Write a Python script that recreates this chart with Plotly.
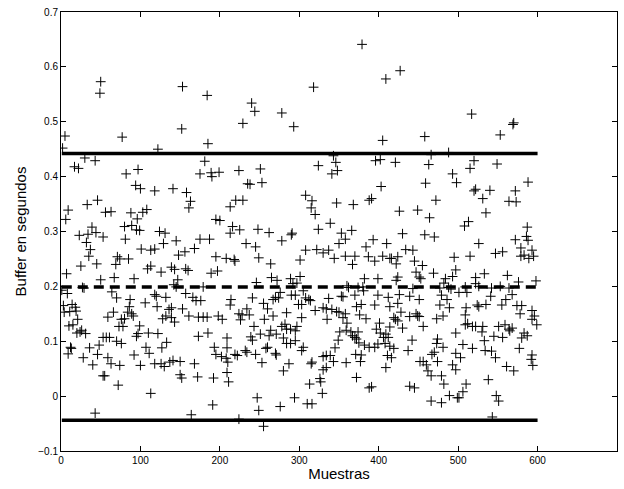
import plotly.graph_objects as go

# ---- data (sample index, buffer in seconds) ----
xs_1 = [49, 50, 5, 2, 17, 22, 30, 43, 9, 6, 33, 46, 23, 34, 39, 44, 32, 37, 35, 45, 25, 7, 1, 8, 27, 29,
        3, 4, 14, 18, 11, 19, 21, 10, 15, 26, 20, 24, 31, 36, 48, 46, 12, 13, 28, 40, 9, 43]
ys_1 = [0.552, 0.573, 0.474, 0.452, 0.418, 0.415, 0.434, 0.429, 0.339, 0.322, 0.349, 0.357, 0.293, 0.295,
        0.308, 0.298, 0.280, 0.267, 0.255, 0.241, 0.237, 0.223, 0.193, 0.187, 0.198, 0.197, 0.165, 0.153,
        0.167, 0.162, 0.154, 0.155, 0.140, 0.128, 0.130, 0.120, 0.115, 0.117, 0.114, 0.088, 0.093, 0.076,
        0.089, 0.087, 0.070, 0.057, 0.077, -0.031]

xs_2 = [77, 82, 97, 94, 100, 56, 63, 88, 96, 103, 80, 89, 95, 99, 53, 81, 101, 71, 69, 74, 85, 50, 67, 92,
        64, 70, 87, 86, 66, 59, 84, 89, 91, 76, 80, 73, 78, 53, 57, 61, 97, 99, 95, 70, 76, 59, 63, 74, 92,
        100, 53, 55, 72]
ys_2 = [0.472, 0.405, 0.413, 0.384, 0.378, 0.335, 0.336, 0.334, 0.323, 0.335, 0.309, 0.311, 0.303, 0.302,
        0.290, 0.286, 0.268, 0.254, 0.240, 0.250, 0.250, 0.212, 0.216, 0.214, 0.190, 0.179, 0.176, 0.163,
        0.153, 0.144, 0.153, 0.150, 0.146, 0.140, 0.141, 0.127, 0.127, 0.107, 0.107, 0.107, 0.114, 0.128,
        0.109, 0.100, 0.096, 0.070, 0.059, 0.056, 0.075, 0.056, 0.037, 0.037, 0.020]

xs_3 = [153, 152, 122, 118, 141, 158, 108, 124, 131, 129, 145, 113, 118, 148, 156, 109, 113, 126, 139, 143,
        142, 145, 147, 118, 120, 132, 106, 121, 136, 139, 128, 132, 139, 143, 153, 110, 122, 133, 107, 111,
        127, 118, 126, 130, 137, 141, 150, 150, 152, 113]
ys_3 = [0.564, 0.487, 0.450, 0.374, 0.378, 0.371, 0.340, 0.300, 0.297, 0.278, 0.283, 0.266, 0.268, 0.257,
        0.263, 0.232, 0.237, 0.226, 0.235, 0.231, 0.203, 0.199, 0.212, 0.185, 0.182, 0.180, 0.170, 0.163,
        0.158, 0.161, 0.141, 0.146, 0.143, 0.135, 0.159, 0.115, 0.114, 0.098, 0.089, 0.078, 0.088, 0.059,
        0.059, 0.054, 0.062, 0.065, 0.063, 0.039, 0.033, 0.005]

xs_4 = [184, 185, 181, 175, 189, 190, 199, 163, 161, 195, 200, 175, 187, 168, 195, 208, 157, 160, 189, 197,
        179, 157, 166, 170, 176, 161, 173, 179, 184, 198, 203, 173, 185, 209, 193, 195, 202, 208, 210, 168,
        172, 192, 191, 164]
ys_4 = [0.548, 0.460, 0.428, 0.405, 0.407, 0.400, 0.408, 0.355, 0.343, 0.322, 0.320, 0.286, 0.286, 0.269,
        0.254, 0.251, 0.232, 0.229, 0.224, 0.228, 0.199, 0.187, 0.180, 0.174, 0.174, 0.146, 0.144, 0.144,
        0.144, 0.146, 0.140, 0.109, 0.115, 0.106, 0.089, 0.076, 0.072, 0.069, 0.062, 0.059, 0.035, 0.033,
        -0.016, -0.034]

xs_5 = [240, 244, 229, 224, 251, 235, 238, 253, 213, 220, 229, 213, 216, 225, 248, 262, 233, 245, 218, 219,
        249, 264, 246, 265, 214, 213, 241, 255, 260, 224, 228, 226, 234, 237, 256, 243, 251, 264, 262, 239,
        241, 209, 219, 222, 232, 234, 245, 258, 260, 253, 209, 211, 247, 249, 224, 255]
ys_5 = [0.534, 0.519, 0.497, 0.411, 0.414, 0.387, 0.386, 0.389, 0.345, 0.357, 0.357, 0.297, 0.309, 0.303,
        0.304, 0.298, 0.278, 0.272, 0.249, 0.246, 0.252, 0.241, 0.207, 0.216, 0.176, 0.166, 0.179, 0.169,
        0.159, 0.150, 0.148, 0.139, 0.159, 0.148, 0.140, 0.127, 0.113, 0.120, 0.110, 0.108, 0.102, 0.088,
        0.076, 0.074, 0.083, 0.080, 0.076, 0.087, 0.089, 0.061, 0.043, 0.026, -0.003, -0.026, -0.042, -0.055]

xs_6 = [318, 278, 293, 308, 316, 315, 278, 291, 290, 308, 301, 272, 289, 301, 292, 297, 276, 290, 295, 305,
        267, 270, 274, 299, 303, 308, 312, 314, 267, 284, 303, 282, 278, 284, 289, 297, 295, 271, 280, 284,
        289, 295, 305, 303, 270, 271, 316, 315, 287, 280, 313, 294, 276, 310, 316]
ys_6 = [0.563, 0.516, 0.491, 0.366, 0.356, 0.343, 0.283, 0.297, 0.294, 0.266, 0.248, 0.211, 0.214, 0.218,
        0.205, 0.206, 0.189, 0.184, 0.184, 0.192, 0.176, 0.180, 0.179, 0.167, 0.167, 0.179, 0.176, 0.174,
        0.146, 0.152, 0.143, 0.131, 0.127, 0.122, 0.122, 0.127, 0.119, 0.113, 0.106, 0.096, 0.096, 0.101,
        0.089, 0.083, 0.078, 0.075, 0.062, 0.059, 0.059, 0.046, 0.022, -0.003, -0.019, -0.014, -0.014]

xs_7 = [343, 346, 348, 324, 341, 320, 347, 368, 339, 324, 353, 358, 366, 350, 322, 330, 337, 344, 358, 370,
        367, 360, 362, 337, 353, 355, 370, 320, 330, 334, 341, 347, 350, 358, 355, 335, 360, 365, 367, 370,
        372, 351, 359, 349, 345, 371, 339, 359, 330, 334, 343, 334, 330, 326, 327, 372, 329]
ys_7 = [0.438, 0.426, 0.411, 0.420, 0.405, 0.331, 0.352, 0.349, 0.315, 0.304, 0.297, 0.286, 0.302, 0.278,
        0.267, 0.261, 0.266, 0.251, 0.255, 0.255, 0.240, 0.201, 0.198, 0.178, 0.182, 0.181, 0.184, 0.156,
        0.161, 0.159, 0.158, 0.154, 0.153, 0.150, 0.143, 0.140, 0.133, 0.117, 0.110, 0.107, 0.104, 0.117,
        0.120, 0.102, 0.088, 0.076, 0.074, 0.061, 0.072, 0.074, 0.063, 0.052, 0.048, 0.032, 0.026, 0.034,
        0.005]

xs_8 = [379, 409, 427, 405, 396, 402, 421, 403, 388, 391, 426, 384, 393, 410, 387, 395, 405, 414, 416, 424,
        422, 382, 399, 424, 422, 374, 381, 380, 399, 412, 426, 372, 378, 395, 414, 424, 376, 384, 419, 421,
        424, 401, 414, 374, 397, 402, 409, 412, 406, 375, 382, 388, 395, 399, 377, 408, 414, 419, 411, 416,
        409, 388, 391, 378]
ys_8 = [0.641, 0.578, 0.593, 0.466, 0.429, 0.431, 0.426, 0.382, 0.357, 0.360, 0.337, 0.272, 0.285, 0.278,
        0.254, 0.246, 0.255, 0.251, 0.251, 0.254, 0.241, 0.214, 0.214, 0.217, 0.211, 0.198, 0.192, 0.199,
        0.184, 0.180, 0.185, 0.163, 0.167, 0.166, 0.163, 0.169, 0.148, 0.141, 0.143, 0.140, 0.137, 0.133,
        0.126, 0.117, 0.122, 0.115, 0.113, 0.107, 0.107, 0.097, 0.093, 0.089, 0.089, 0.095, 0.063, 0.096,
        0.091, 0.087, 0.074, 0.070, 0.052, 0.015, 0.017, 0.075]

xs_9 = [458, 466, 463, 459, 472, 464, 449, 430, 458, 470, 434, 443, 445, 455, 447, 451, 453, 469, 443, 477,
        439, 451, 479, 477, 428, 439, 449, 451, 447, 473, 481, 456, 430, 442, 474, 473, 481, 437, 467, 470,
        452, 456, 460, 474, 462, 466, 479, 439, 445, 466, 479]
ys_9 = [0.473, 0.440, 0.422, 0.388, 0.357, 0.325, 0.339, 0.296, 0.294, 0.290, 0.267, 0.266, 0.246, 0.238,
        0.226, 0.217, 0.214, 0.224, 0.196, 0.197, 0.182, 0.176, 0.184, 0.166, 0.153, 0.145, 0.146, 0.145,
        0.150, 0.141, 0.146, 0.127, 0.124, 0.102, 0.104, 0.096, 0.089, 0.083, 0.076, 0.080, 0.063, 0.063,
        0.057, 0.063, 0.046, 0.037, 0.037, 0.018, 0.015, -0.009, -0.012]

xs_10 = [517, 488, 520, 515, 493, 498, 520, 522, 531, 535, 508, 513, 526, 495, 515, 497, 493, 522, 533, 484,
         482, 522, 526, 488, 491, 486, 501, 509, 511, 489, 524, 526, 535, 510, 509, 509, 512, 518, 522, 531,
         530, 497, 506, 497, 518, 533, 534, 503, 493, 497, 482, 510, 506, 501, 499, 489]
ys_10 = [0.514, 0.444, 0.429, 0.415, 0.405, 0.389, 0.374, 0.377, 0.360, 0.334, 0.310, 0.318, 0.278, 0.253,
         0.255, 0.230, 0.218, 0.216, 0.223, 0.214, 0.206, 0.205, 0.200, 0.198, 0.195, 0.176, 0.189, 0.199,
         0.189, 0.161, 0.166, 0.163, 0.167, 0.161, 0.148, 0.130, 0.132, 0.127, 0.127, 0.127, 0.117, 0.115,
         0.094, 0.078, 0.087, 0.101, 0.083, 0.070, 0.057, 0.048, 0.022, 0.022, 0.008, -0.003, -0.003, 0.001]

xs_11 = [553, 569, 570, 549, 588, 540, 572, 564, 573, 587, 572, 579, 586, 588, 593, 547, 556, 579, 583, 589,
         595, 562, 542, 553, 564, 576, 541, 568, 555, 560, 574, 580, 578, 593, 593, 596, 551, 559, 564, 568,
         565, 545, 556, 583, 587, 580, 542, 547, 577, 593, 592, 594, 561, 570, 538, 548, 551, 543, 598, 599]
ys_11 = [0.476, 0.495, 0.498, 0.423, 0.390, 0.375, 0.374, 0.355, 0.354, 0.308, 0.285, 0.270, 0.291, 0.284,
         0.266, 0.260, 0.263, 0.255, 0.257, 0.251, 0.255, 0.220, 0.197, 0.200, 0.197, 0.208, 0.182, 0.185,
         0.166, 0.176, 0.165, 0.165, 0.150, 0.156, 0.140, 0.146, 0.127, 0.130, 0.122, 0.124, 0.119, 0.109,
         0.107, 0.115, 0.110, 0.106, 0.082, 0.070, 0.087, 0.075, 0.067, 0.056, 0.054, 0.046, 0.030, 0.001,
         -0.009, -0.038, 0.210, 0.130]

# reference lines (mean and limits)
line_x = [1, 600]
upper_limit = 0.442
mean_value = 0.199
lower_limit = -0.044

x_ticks = [0, 100, 200, 300, 400, 500, 600, 700]
y_ticks = [-0.1, 0, 0.1, 0.2, 0.3, 0.4, 0.5, 0.6, 0.7]
y_tick_text = ["\u22120.1", "0", "0.1", "0.2", "0.3", "0.4", "0.5", "0.6", "0.7"]

xs = xs_1 + xs_2 + xs_3 + xs_4 + xs_5 + xs_6 + xs_7 + xs_8 + xs_9 + xs_10 + xs_11
ys = ys_1 + ys_2 + ys_3 + ys_4 + ys_5 + ys_6 + ys_7 + ys_8 + ys_9 + ys_10 + ys_11

fig = go.Figure()
fig.add_trace(go.Scatter(
    x=xs, y=ys, mode="markers",
    marker=dict(symbol="cross-thin", size=7, line=dict(color="black", width=1), color="black"),
    showlegend=False, hoverinfo="skip"))
for val, dash in [(upper_limit, "solid"), (mean_value, "10px,6px"), (lower_limit, "solid")]:
    fig.add_trace(go.Scatter(
        x=line_x, y=[val, val], mode="lines",
        line=dict(color="black", width=3.5, dash=dash),
        showlegend=False, hoverinfo="skip"))

axis_common = dict(
    showgrid=False, zeroline=False, showline=True, linecolor="black", linewidth=1,
    mirror="ticks", ticks="inside", ticklen=5, tickcolor="black", tickwidth=1,
    tickfont=dict(family="Liberation Sans, Arial, sans-serif", size=10, color="black"),
)
fig.update_xaxes(range=[0, 700], tickvals=x_ticks, automargin=False,
                 title=dict(text="Muestras", standoff=3,
                            font=dict(family="Liberation Sans, Arial, sans-serif", size=15, color="black")),
                 **axis_common)
fig.update_yaxes(range=[-0.1, 0.7], tickvals=y_ticks, ticktext=y_tick_text, automargin=False,
                 title=dict(text="Buffer en segundos", standoff=8,
                            font=dict(family="Liberation Sans, Arial, sans-serif", size=15, color="black")),
                 **axis_common)
fig.update_layout(
    width=624, height=489,
    margin=dict(l=61, r=7, t=12, b=38),
    paper_bgcolor="white", plot_bgcolor="white",
)
fig.write_html("out.html")
